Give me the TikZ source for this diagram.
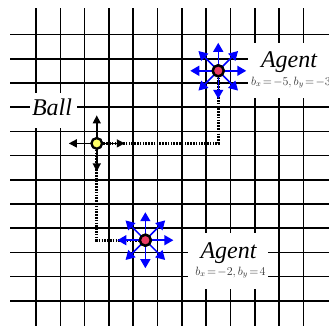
\documentclass[tikz,border=0pt]{standalone}
\usepackage{fontspec}
\setmainfont{Liberation Serif}
\usetikzlibrary{arrows.meta}
\tikzset{
  gridline/.style={line width=1.6pt, black},
  whitebox/.style={fill=white, draw=none, inner sep=0pt},
  pathline/.style={line width=2.6pt, black, dash pattern=on 1.6pt off 1.2pt},
  ballarrow/.style={line width=1.5pt, black, -{Triangle[length=8pt,width=8pt]}},
  agentarrow/.style={line width=1.5pt, blue, -{Triangle[length=9pt,width=10pt]}},
  ballnode/.style={circle, draw=black, line width=2.2pt, fill={rgb,255:red,255;green,255;blue,102}, minimum size=10.5pt, inner sep=0pt},
  agentnode/.style={circle, draw=black, line width=2.4pt, fill={rgb,255:red,235;green,60;blue,100}, minimum size=11pt, inner sep=0pt},
  biglabel/.style={font=\fontsize{24}{24}\selectfont\itshape, inner sep=0pt},
  sublabel/.style={font=\fontsize{11.5}{12}\selectfont, text=black!80, inner sep=0pt}
}
\begin{document}
\begin{tikzpicture}[x=1pt,y=-1pt]
\useasboundingbox (0,0) rectangle (329,325);
% grid
\foreach \i in {0,...,11} {
  \draw[gridline] ({36+24.3*\i},8) -- ({36+24.3*\i},330);
  \draw[gridline] (10,{34.5+24.2*\i}) -- (335,{34.5+24.2*\i});
}
% white label backgrounds
\fill[white] (30,93) rectangle (77,128);
\fill[white] (248,43) rectangle (335,98);
\fill[white] (188,233) rectangle (268,289);
% objects
\node[ballnode] (ball) at (96.75,143.4) {};
\node[agentnode] (agentA) at (218.25,70.8) {};
\node[agentnode] (agentB) at (145.35,240.2) {};
% dotted paths
\draw[pathline] (agentA) |- (ball);
\draw[pathline] (ball) |- (agentB);
% arrows
\foreach \a in {0,90,180,270} \draw[ballarrow] (ball.center) -- ++(\a:28);
\foreach \a in {0,45,...,315} {
  \draw[agentarrow] (agentA.center) -- ++(\a:28);
  \draw[agentarrow] (agentB.center) -- ++(\a:28);
}
% redraw circles on top
\node[ballnode] at (ball) {};
\node[agentnode] at (agentA) {};
\node[agentnode] at (agentB) {};
% labels
\node[biglabel, anchor=base] (balllabel) at (52,115) {Ball};
\node[biglabel, anchor=base] (agentAlabel) at (289,67) {Agent};
\node[sublabel, anchor=base west] (agentAsub) at (251,85) {$b_x\!=\!-5,b_y\!=\!-3$};
\node[biglabel, anchor=base] (agentBlabel) at (228.5,258) {Agent};
\node[sublabel, anchor=base] (agentBsub) at (230.5,275) {$b_x\!=\!-2,b_y\!=\!4$};
\end{tikzpicture}
\end{document}
